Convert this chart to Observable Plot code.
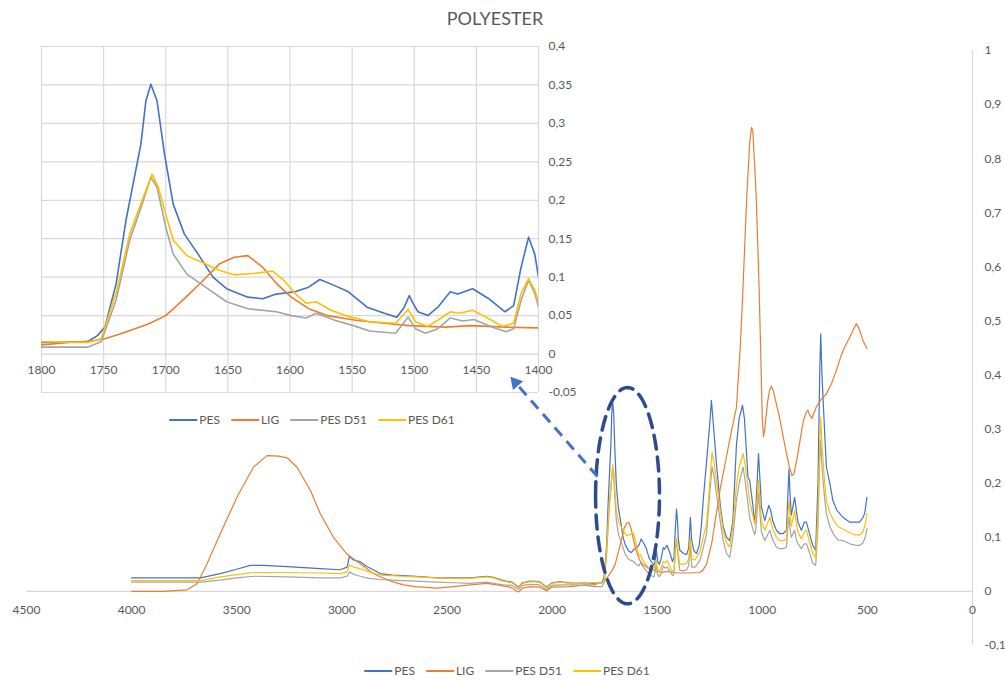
<!DOCTYPE html>
<html><head><meta charset="utf-8">
<script src="https://cdn.jsdelivr.net/npm/d3@7"></script>
<script src="https://cdn.jsdelivr.net/npm/@observablehq/plot@0.6"></script>
<style>
body{margin:0;background:#fff;font-family:Lato,"Open Sans",sans-serif;}
#wrap{position:relative;width:1005px;height:680px;overflow:hidden;background:#fff;}
#inset,#main{position:absolute;left:0;top:0;}
#main svg{background:transparent;}
.title{position:absolute;top:7px;left:0;width:990px;text-align:center;font-size:18px;color:#595959;}
.legend{position:absolute;display:flex;gap:11px;font-size:12px;line-height:14px;height:14px;color:#595959;align-items:center;transform:translateX(-50%);white-space:nowrap;}
.item{display:flex;align-items:center;}
.sw{display:inline-block;width:28px;height:2px;margin-right:2px;}
</style></head>
<body><div id="wrap">
<div id="inset"></div>
<div id="main"></div>
<div class="title">POLYESTER</div>
<div class="legend" id="leg1" style="left:312px;top:413px"></div>
<div class="legend" id="leg2" style="left:507px;top:664px"></div>
</div>
<script>
// ---- data (wavenumber cm-1, absorbance) ----
const PES = [[4000,0.025],[3800,0.025],[3673,0.025],[3578,0.033],[3500,0.041],[3436,0.048],[3372,0.048],[3261,0.046],[3103,0.042],[3008,0.040],[2975,0.045],[2964,0.065],[2945,0.058],[2913,0.055],[2881,0.046],[2850,0.040],[2818,0.033],[2760,0.030],[2707,0.029],[2650,0.028],[2548,0.025],[2470,0.025],[2390,0.025],[2311,0.028],[2280,0.026],[2232,0.020],[2190,0.017],[2160,0.008],[2140,0.016],[2105,0.019],[2060,0.018],[2026,0.008],[2000,0.016],[1962,0.018],[1920,0.016],[1883,0.015],[1840,0.016],
[1800,0.015],[1763,0.016],[1755,0.024],[1749,0.035],[1740,0.091],[1732,0.174],[1720,0.273],[1716,0.329],[1712,0.351],[1707,0.329],[1701,0.26],[1694,0.195],[1685,0.156],[1674,0.13],[1662,0.1],[1651,0.085],[1634,0.074],[1622,0.072],[1611,0.078],[1596,0.081],[1585,0.087],[1576,0.097],[1564,0.089],[1553,0.081],[1538,0.061],[1524,0.053],[1514,0.048],[1508,0.061],[1504,0.076],[1501,0.066],[1497,0.055],[1489,0.05],[1481,0.061],[1471,0.081],[1465,0.078],[1453,0.085],[1440,0.072],[1427,0.055],[1420,0.063],[1414,0.113],[1408,0.152],[1403,0.13],[1400,0.1],
[1392,0.076],[1375,0.07],[1360,0.068],[1350,0.08],[1342,0.137],[1336,0.095],[1325,0.075],[1313,0.07],[1300,0.085],[1290,0.12],[1281,0.168],[1265,0.24],[1250,0.31],[1242,0.353],[1235,0.32],[1218,0.236],[1200,0.16],[1186,0.12],[1170,0.1],[1155,0.094],[1140,0.13],[1123,0.27],[1110,0.32],[1094,0.344],[1085,0.32],[1068,0.211],[1060,0.205],[1045,0.16],[1036,0.125],[1031,0.15],[1018,0.255],[1010,0.2],[1004,0.156],[988,0.131],[969,0.159],[960,0.15],[950,0.13],[933,0.113],[917,0.107],[901,0.107],[885,0.113],[878,0.18],[873,0.226],[868,0.18],[862,0.141],[846,0.174],[838,0.15],[830,0.128],[814,0.113],[800,0.128],[790,0.128],[774,0.105],[760,0.085],[746,0.076],[735,0.2],[727,0.4],[722,0.476],[716,0.4],[703,0.291],[695,0.23],[679,0.2],[664,0.168],[645,0.15],[616,0.137],[584,0.128],[553,0.128],[537,0.128],[521,0.137],[513,0.144],[502,0.174]];

const LIG = [[4000,0.0],[3850,0.0],[3736,0.003],[3689,0.014],[3641,0.051],[3578,0.107],[3499,0.174],[3420,0.23],[3356,0.251],[3300,0.25],[3261,0.247],[3214,0.23],[3150,0.187],[3103,0.144],[3040,0.1],[2976,0.069],[2913,0.051],[2850,0.033],[2818,0.027],[2760,0.018],[2707,0.012],[2650,0.009],[2548,0.006],[2469,0.009],[2390,0.012],[2311,0.015],[2260,0.012],[2200,0.008],[2160,-0.001],[2140,0.006],[2105,0.009],[2060,0.008],[2026,0.001],[2000,0.008],[1920,0.009],[1840,0.012],
[1800,0.012],[1778,0.015],[1760,0.017],[1749,0.02],[1735,0.027],[1714,0.039],[1700,0.05],[1685,0.072],[1671,0.094],[1657,0.117],[1645,0.126],[1634,0.128],[1622,0.113],[1611,0.092],[1599,0.074],[1585,0.059],[1570,0.05],[1547,0.044],[1530,0.041],[1504,0.037],[1475,0.035],[1455,0.037],[1426,0.035],[1400,0.034],
[1350,0.034],[1300,0.035],[1285,0.038],[1265,0.05],[1240,0.09],[1220,0.14],[1200,0.19],[1180,0.23],[1155,0.28],[1123,0.34],[1105,0.45],[1094,0.54],[1075,0.72],[1060,0.83],[1051,0.858],[1045,0.85],[1035,0.78],[1028,0.72],[1015,0.56],[1008,0.45],[1000,0.32],[994,0.286],[988,0.3],[975,0.35],[965,0.372],[957,0.379],[948,0.372],[935,0.35],[917,0.32],[900,0.285],[885,0.255],[870,0.228],[859,0.214],[850,0.217],[835,0.245],[820,0.28],[805,0.315],[790,0.332],[783,0.335],[775,0.326],[764,0.32],[743,0.341],[720,0.355],[695,0.365],[670,0.385],[648,0.408],[630,0.43],[616,0.445],[600,0.458],[584,0.47],[565,0.485],[553,0.495],[545,0.49],[537,0.483],[521,0.464],[510,0.455],[502,0.449]];

const PES_D51 = [[4000,0.017],[3800,0.017],[3673,0.017],[3578,0.021],[3500,0.025],[3420,0.028],[3261,0.027],[3103,0.025],[3008,0.025],[2975,0.028],[2964,0.036],[2945,0.032],[2913,0.028],[2870,0.024],[2818,0.022],[2760,0.021],[2707,0.02],[2650,0.019],[2548,0.017],[2470,0.016],[2390,0.015],[2311,0.017],[2280,0.015],[2232,0.012],[2190,0.011],[2160,0.004],[2140,0.011],[2105,0.013],[2060,0.012],[2026,0.004],[2000,0.011],[1962,0.012],[1920,0.012],[1883,0.012],[1840,0.011],
[1800,0.009],[1763,0.009],[1752,0.016],[1740,0.07],[1729,0.148],[1719,0.195],[1712,0.23],[1707,0.217],[1700,0.165],[1694,0.13],[1683,0.104],[1668,0.087],[1651,0.068],[1634,0.059],[1611,0.055],[1599,0.05],[1587,0.047],[1579,0.053],[1564,0.044],[1547,0.036],[1536,0.03],[1515,0.027],[1505,0.048],[1499,0.033],[1491,0.027],[1481,0.033],[1471,0.047],[1461,0.043],[1452,0.045],[1437,0.035],[1426,0.029],[1420,0.033],[1414,0.07],[1408,0.096],[1403,0.079],[1400,0.061],
[1392,0.039],[1375,0.038],[1360,0.04],[1350,0.048],[1342,0.082],[1335,0.045],[1320,0.045],[1297,0.057],[1281,0.08],[1265,0.107],[1250,0.18],[1239,0.23],[1230,0.215],[1218,0.181],[1200,0.13],[1186,0.094],[1170,0.07],[1155,0.063],[1140,0.1],[1123,0.168],[1110,0.2],[1091,0.23],[1080,0.2],[1060,0.137],[1045,0.115],[1036,0.105],[1031,0.113],[1018,0.181],[1010,0.14],[1004,0.11],[988,0.094],[964,0.113],[950,0.095],[933,0.082],[917,0.079],[900,0.079],[885,0.082],[878,0.12],[873,0.137],[868,0.115],[862,0.1],[846,0.113],[838,0.095],[830,0.088],[814,0.079],[800,0.088],[790,0.088],[774,0.07],[760,0.052],[746,0.048],[735,0.12],[727,0.24],[722,0.28],[716,0.23],[703,0.17],[695,0.144],[679,0.12],[660,0.105],[640,0.095],[616,0.094],[584,0.088],[553,0.085],[537,0.085],[521,0.09],[510,0.1],[502,0.116]];

const PES_D61 = [[4000,0.02],[3800,0.02],[3673,0.02],[3578,0.027],[3500,0.031],[3420,0.035],[3261,0.035],[3103,0.034],[3008,0.033],[2975,0.036],[2964,0.049],[2945,0.045],[2913,0.042],[2870,0.036],[2818,0.030],[2760,0.029],[2707,0.028],[2650,0.027],[2548,0.025],[2470,0.024],[2390,0.024],[2311,0.027],[2280,0.025],[2232,0.019],[2190,0.016],[2160,0.007],[2140,0.015],[2105,0.018],[2060,0.017],[2026,0.007],[2000,0.015],[1962,0.017],[1920,0.015],[1883,0.015],[1840,0.016],
[1800,0.016],[1763,0.015],[1752,0.02],[1740,0.079],[1729,0.156],[1719,0.2],[1711,0.234],[1706,0.217],[1700,0.182],[1694,0.148],[1683,0.128],[1668,0.117],[1657,0.109],[1645,0.103],[1628,0.105],[1614,0.108],[1605,0.096],[1596,0.079],[1587,0.066],[1579,0.068],[1567,0.057],[1553,0.049],[1536,0.042],[1515,0.04],[1505,0.058],[1499,0.042],[1489,0.036],[1481,0.044],[1471,0.055],[1464,0.053],[1453,0.057],[1440,0.046],[1429,0.036],[1420,0.04],[1414,0.079],[1408,0.098],[1403,0.083],[1400,0.068],
[1392,0.051],[1375,0.05],[1360,0.052],[1350,0.06],[1342,0.1],[1335,0.06],[1320,0.058],[1297,0.073],[1281,0.1],[1265,0.125],[1250,0.2],[1239,0.257],[1230,0.24],[1218,0.205],[1200,0.15],[1186,0.113],[1170,0.09],[1155,0.082],[1140,0.12],[1123,0.195],[1110,0.23],[1091,0.255],[1080,0.23],[1060,0.168],[1045,0.14],[1036,0.125],[1031,0.137],[1018,0.205],[1010,0.16],[1004,0.13],[988,0.113],[964,0.137],[950,0.115],[933,0.1],[917,0.094],[900,0.094],[885,0.097],[878,0.14],[873,0.168],[868,0.14],[862,0.12],[846,0.15],[838,0.125],[830,0.11],[814,0.097],[800,0.11],[790,0.113],[774,0.09],[760,0.07],[746,0.063],[735,0.15],[727,0.27],[722,0.322],[716,0.27],[703,0.2],[695,0.168],[679,0.145],[660,0.131],[640,0.12],[606,0.113],[570,0.106],[537,0.104],[521,0.11],[510,0.125],[502,0.144]];

const seriesNames = ["PES","LIG","PES D51","PES D61"];
const seriesColors = ["#4472C4","#ED7D31","#A5A5A5","#FFC000"];
const seriesData = [PES, LIG, PES_D51, PES_D61];

const mainXTicks = [4500,4000,3500,3000,2500,2000,1500,1000,500,0];
const mainYTicks = [-0.1,0,0.1,0.2,0.3,0.4,0.5,0.6,0.7,0.8,0.9,1];
const mainYLabels = ["-0,1","0","0,1","0,2","0,3","0,4","0,5","0,6","0,7","0,8","0,9","1"];
const insetXTicks = [1800,1750,1700,1650,1600,1550,1500,1450,1400];
const insetYTicks = [-0.05,0,0.05,0.1,0.15,0.2,0.25,0.3,0.35,0.4];
const insetYLabels = ["-0,05","0","0,05","0,1","0,15","0,2","0,25","0,3","0,35","0,4"];

// annotation (in main-chart data units)
const ellipseCenter = [1641, 0.177];
const ellipseRadius = [152, 0.2];
const arrowTail = [1784, 0.2124];
const arrowHead = [2174, 0.386];

// ---- build ----
const grey = "#595959";
const font = "Lato, 'Open Sans', sans-serif";
const rows = seriesData.map((arr,i)=>arr.map(([w,v])=>({w,v,s:seriesNames[i]})));

const ellipsePts = d3.range(0, 361, 3).map(a => ({
  w: ellipseCenter[0] + ellipseRadius[0]*Math.cos(a*Math.PI/180),
  v: ellipseCenter[1] + ellipseRadius[1]*Math.sin(a*Math.PI/180)
}));

const mainPlot = Plot.plot({
  width:1005, height:680,
  marginLeft:26, marginRight:33, marginTop:50, marginBottom:35,
  x:{domain:[4500,0], axis:null},
  y:{domain:[-0.1,1], axis:null},
  style:{background:"transparent", fontFamily:font, fontSize:"12px", color:grey, overflow:"visible"},
  marks:[
    Plot.ruleY([0],{stroke:"#d9d9d9", strokeWidth:1.2}),
    Plot.ruleX([0],{stroke:"#d9d9d9", strokeWidth:1.2}),
    Plot.text(mainXTicks,{x:d=>d, y:0, dy:19, text:d=>String(d), fill:grey, fontSize:12}),
    Plot.text(mainYTicks,{x:0, y:d=>d, dx:12, textAnchor:"start", text:(d,i)=>mainYLabels[i], fill:grey, fontSize:12}),
    ...rows.map((r,i)=>Plot.line(r,{x:"w", y:"v", stroke:seriesColors[i], strokeWidth:1.2})),
    Plot.line(ellipsePts,{x:"w", y:"v", stroke:"#2c4c8c", strokeWidth:3.5, strokeDasharray:"14,8"}),
    Plot.link([{}],{x1:()=>arrowTail[0], y1:()=>arrowTail[1], x2:()=>arrowHead[0], y2:()=>arrowHead[1], stroke:"#4472C4", strokeWidth:3, strokeDasharray:"11,7"}),
    Plot.dot([{}],{x:()=>arrowHead[0], y:()=>arrowHead[1], symbol:"triangle", r:5, fill:"#4472C4", stroke:"none", rotate:-41})
  ]
});
document.getElementById("main").appendChild(mainPlot);

const insetRows = rows.map(r=>r.filter(d=>d.w<=1800 && d.w>=1400));
const insetPlot = Plot.plot({
  width:600, height:440,
  marginLeft:41, marginRight:62, marginTop:46, marginBottom:48,
  x:{domain:[1800,1400], axis:null},
  y:{domain:[-0.05,0.4], axis:null},
  style:{background:"white", fontFamily:font, fontSize:"12px", color:grey, overflow:"visible"},
  marks:[
    Plot.ruleX(insetXTicks,{stroke:"#d9d9d9", strokeWidth:1.2}),
    Plot.ruleY(insetYTicks,{stroke:"#d9d9d9", strokeWidth:1.2}),
    Plot.text(insetXTicks,{x:d=>d, y:0, dy:16, text:d=>String(d), fill:grey, fontSize:12}),
    Plot.text(insetYTicks,{x:1400, y:d=>d, dx:10, textAnchor:"start", text:(d,i)=>insetYLabels[i], fill:grey, fontSize:12}),
    ...insetRows.map((r,i)=>Plot.line(r,{x:"w", y:"v", stroke:seriesColors[i], strokeWidth:1.6, clip:true}))
  ]
});
document.getElementById("inset").appendChild(insetPlot);

for (const id of ["leg1","leg2"]) {
  const el = document.getElementById(id);
  seriesNames.forEach((n,i)=>{
    const it = document.createElement("span"); it.className="item";
    const sw = document.createElement("span"); sw.className="sw"; sw.style.background=seriesColors[i];
    const tx = document.createElement("span"); tx.textContent=n;
    it.appendChild(sw); it.appendChild(tx); el.appendChild(it);
  });
}
</script>
</body></html>
